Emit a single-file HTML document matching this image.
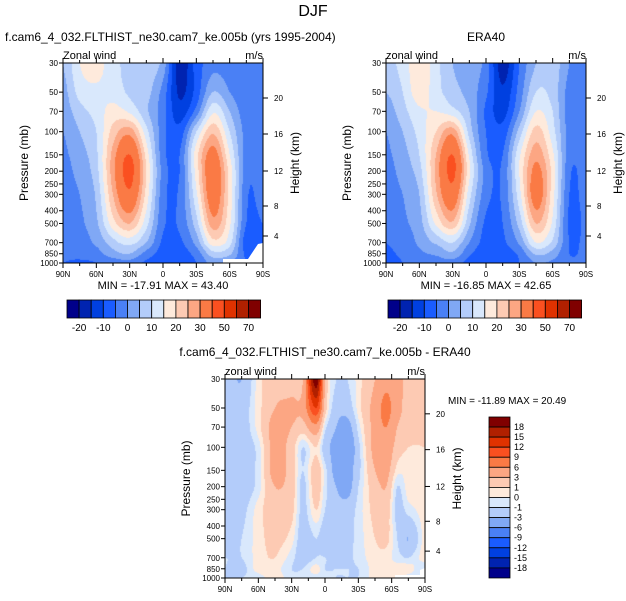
<!DOCTYPE html>
<html><head><meta charset="utf-8">
<style>
body{margin:0;background:#fff;width:626px;height:601px;overflow:hidden;position:relative;font-family:"Liberation Sans",Arial,sans-serif;color:#000}
.t{position:absolute;white-space:nowrap}
canvas{position:absolute}
svg{position:absolute;left:0;top:0}
</style></head><body>
<div class="t" style="left:0;width:626px;text-align:center;top:3px;font-size:16px">DJF</div>
<div class="t" style="left:5px;top:30px;font-size:12px">f.cam6_4_032.FLTHIST_ne30.cam7_ke.005b (yrs 1995-2004)</div>
<div class="t" style="left:386px;width:200px;text-align:center;top:30px;font-size:12px">ERA40</div>
<div class="t" style="left:130px;width:390px;text-align:center;top:345px;font-size:12px">f.cam6_4_032.FLTHIST_ne30.cam7_ke.005b - ERA40</div>
<canvas id="c1" width="200" height="200" style="left:63px;top:63px"></canvas>
<canvas id="c2" width="200" height="200" style="left:386px;top:63px"></canvas>
<canvas id="c3" width="200" height="199" style="left:225px;top:379px"></canvas>
<svg id="ov" width="626" height="601"></svg>
<script>
const pLevels=[30,50,70,100,150,200,300,500,700,850,1000];
const pTickLabels=[30,50,70,100,150,200,250,300,400,500,700,850,1000];
const kmTicks=[4,8,12,16,20];
const kmTickY=[0.865,0.715,0.54,0.355,0.175];
const latTicks=['90N','60N','30N','0','30S','60S','90S'];
const fullLevels=[-20,-15,-10,-5,0,5,10,15,20,25,30,40,50,60,70];
const fullLabels=['-20','-10','0','10','20','30','50','70'];
const diffLevels=[-18,-15,-12,-9,-6,-3,-1,0,1,3,6,9,12,15,18];
const diffLabels=['18','15','12','9','6','3','1','0','-1','-3','-6','-9','-12','-15','-18'];
const colors=['#00008a','#0023b0','#0040e0','#1a5cff','#4a80f5','#80a8f5','#b3ccfa','#d9e8fc','#feeadc','#fdcab3','#fca683','#fa7a45','#fa5020','#e03200','#b02000','#800000'];
const modelLats=[90,75,60,45,30,15,0,-15,-30,-45,-60,-75,-90];
const modelWind=[
[5,3,2,0,-1,-2,-3,-3,-3,-4,-5],
[15,12,8,5,3,2,0,-1,-2,-3,-6],
[17,14,12,10,9,8,6,4,1,-2,-5],
[12,13,17,22,27,28,25,18,8,3,-3],
[8,9,14,28,40,43,38,25,12,5,-2],
[8,7,6,12,18,20,18,12,5,-2,-6],
[3,-2,-3,-3,-3,-2,-3,-4,-6,-7,-7],
[-18,-16,-13,-8,-5,-5,-4,-4,-6,-7,-7],
[-8,-8,-3,10,18,17,14,8,2,-3,-5],
[-2,5,14,24,33,36,35,28,18,8,2],
[-3,0,5,10,15,18,18,16,12,6,0],
[-3,-4,-3,-2,-2,-3,-4,-5,-8,-6,-5],
[-2,-3,-3,-3,-3,-3,-3,-5,-5,-3,-3]];
const eraLats=[90,75,60,45,30,15,0,-15,-30,-45,-60,-75,-90];
const eraWind=[
[8,5,2,0,-1,-2,-3,-4,-5,-6,-8],
[12,10,8,5,3,2,0,-1,-3,-4,-5],
[19,18,14,12,10,8,5,3,1,-1,-3],
[12,12,15,20,25,26,24,16,6,1,-3],
[5,7,12,28,40,42,36,24,10,4,-2],
[3,3,5,8,14,16,12,6,0,-4,-7],
[-2,-4,-6,-5,-4,-2,-3,-6,-7,-8,-8],
[-18,-14,-12,-8,-5,-4,-4,-5,-6,-7,-6],
[-5,-3,0,7,14,15,13,7,1,-4,-5],
[5,10,15,22,28,32,34,25,15,6,0],
[8,8,10,12,16,18,17,14,9,3,-1],
[0,-2,-3,-2,-3,-4,-5,-6,-5,-5,-4],
[-2,-3,-3,-3,-3,-3,-3,-4,-4,-4,-4]];
const diffLats=[90,75,60,45,30,20,8,0,-10,-20,-30,-45,-55,-65,-75,-90];
const diffWind=[
[-2,-2,-2,-2,-2,-1.5,-1.5,-1.5,-1,-1,-1],
[-3,-2,-2,-2,-2,-2,-1.5,-1,-1,-1.5,-1],
[0.5,0.5,0.5,-0.5,-0.5,-0.5,0.5,0.5,0.5,0.5,-0.5],
[2,3,4,4,4,3,2,1.5,1,0.5,0.5],
[2,3.5,3,2,2,2,1.5,0.5,-0.5,-1,-0.5],
[3,4,2,-1,-1,-1.5,-1.5,-2,-2,-1,-0.5],
[20,12,5,1,2,2,1,-1,-1,0.5,-0.5],
[3,2,-0.5,-2,-0.5,-0.5,-1,-2,-1,-1,-0.5],
[-1,-2,-3,-4,-4,-3,-2,-1.5,-1.5,-1,-1],
[-1,-2,-4,-5,-4,-4,-2,-1.5,-1.5,-1,-1],
[0.5,0.5,-0.5,-1.5,-1.5,-1,-0.5,-0.5,-0.5,-1,-1],
[3,4,4,4,3,2,1.5,1,0.5,0.5,0.5],
[5,7,6,5,4,3,2,1.5,0.5,0.5,0.5],
[4,4,3,2,0.5,-1,-1.5,-1,-0.5,0.5,0.5],
[2,2,2,1,0.5,0.5,-0.5,-3,-1,0.5,-0.5],
[1,1,1,1,0.5,0.5,0.5,0.5,0.5,-1,-1]];

const NS='http://www.w3.org/2000/svg';
const ov=document.getElementById('ov');
function yOfP(p,top,h){return top+Math.log(p/30)/Math.log(1000/30)*h;}
function colorFor(v,levels){let i=0;while(i<levels.length&&v>=levels[i])i++;return colors[i];}
function cr(p0,p1,p2,p3,t){return 0.5*((2*p1)+(-p0+p2)*t+(2*p0-5*p1+4*p2-p3)*t*t+(-p0+3*p1-3*p2+p3)*t*t*t);}
function interp(lats,grid,lat,p){
  let i=0;while(i<lats.length-2&&lat<lats[i+1])i++;
  const tl=Math.min(1,Math.max(0,(lats[i]-lat)/(lats[i]-lats[i+1])));
  const lp=Math.log(p);let j=0;while(j<pLevels.length-2&&p>pLevels[j+1])j++;
  const tp=Math.min(1,Math.max(0,(lp-Math.log(pLevels[j]))/(Math.log(pLevels[j+1])-Math.log(pLevels[j]))));
  const ni=lats.length,nj=pLevels.length;
  const g=(a,b)=>grid[Math.max(0,Math.min(ni-1,a))][Math.max(0,Math.min(nj-1,b))];
  const rows=[];
  for(let di=-1;di<=2;di++){rows.push(cr(g(i+di,j-1),g(i+di,j),g(i+di,j+1),g(i+di,j+2),tp));}
  return cr(rows[0],rows[1],rows[2],rows[3],tl);
}
function drawField(id,lats,grid,levels){
  const cv=document.getElementById(id),ctx=cv.getContext('2d');const W=cv.width,H=cv.height;
  for(let y=0;y<H;y++){const p=30*Math.pow(1000/30,(y+0.5)/H);
    for(let x=0;x<W;x++){const lat=90-(x+0.5)/W*180;
      ctx.fillStyle=colorFor(interp(lats,grid,lat,p),levels);ctx.fillRect(x,y,1,1);}}
}
function el(tag,attrs,name,text){const e=document.createElementNS(NS,tag);for(const k in attrs)e.setAttribute(k,attrs[k]);
  
  
  if(text!==undefined)e.textContent=text;ov.appendChild(e);return e;}
function axes(left,top,w,h,label,pre){
  el('rect',{x:left,y:top,width:w,height:h,fill:'none',stroke:'#000','stroke-width':1},pre+'-frame');
  pTickLabels.forEach(p=>{const y=yOfP(p,top,h);
    el('line',{x1:left-4,x2:left,y1:y,y2:y,stroke:'#000'},pre+'-y-tick');
    el('text',{x:left-5,y:y+3,'font-size':8,'text-anchor':'end','font-family':'Liberation Sans'},pre+'-y-tick-label',p);});
  kmTicks.forEach((k,i)=>{const y=top+kmTickY[i]*h;
    el('line',{x1:left+w,x2:left+w+5,y1:y,y2:y,stroke:'#000'},pre+'-height-tick');
    el('text',{x:left+w+11,y:y+3,'font-size':8,'font-family':'Liberation Sans'},pre+'-height-tick-label',k);});
  for(let i=0;i<=12;i++){const x=left+i*w/12;const len=i%2==0?5:3;
    el('line',{x1:x,x2:x,y1:top+h,y2:top+h+len,stroke:'#000'},pre+'-x-tick');
    el('line',{x1:x,x2:x,y1:top,y2:top-len,stroke:'#000'},pre+'-x-tick-top');}
  latTicks.forEach((t,i)=>{const x=left+i*w/6;
    el('text',{x:x,y:top+h+14,'font-size':8,'text-anchor':'middle','font-family':'Liberation Sans'},pre+'-x-tick-label',t);});
  el('text',{x:left,y:top-4,'font-size':11,'font-family':'Liberation Sans'},pre+'-variable-label',label);
  el('text',{x:left+w,y:top-4,'font-size':11,'text-anchor':'end','font-family':'Liberation Sans'},pre+'-units-label','m/s');
  const cy=top+h/2;
  el('text',{x:left-35,y:cy,'font-size':12,'text-anchor':'middle','font-family':'Liberation Sans',transform:`rotate(-90 ${left-35} ${cy})`},pre+'-y-axis-title','Pressure (mb)');
  el('text',{x:left+w+36,y:cy,'font-size':12,'text-anchor':'middle','font-family':'Liberation Sans',transform:`rotate(-90 ${left+w+36} ${cy})`},pre+'-height-axis-title','Height (km)');
}
function hbar(left,top,pre){
  const bw=12.1;
  colors.forEach((c,i)=>el('rect',{x:left+i*bw,y:top,width:bw,height:18,fill:c,stroke:'#000','stroke-width':0.8},pre+'-colorbar-box'));
  fullLabels.forEach((t,i)=>el('text',{x:left+(1+2*i)*bw,y:top+31,'font-size':10,'text-anchor':'middle','font-family':'Liberation Sans'},pre+'-colorbar-label',t));
}
drawField('c1',modelLats,modelWind,fullLevels);
drawField('c2',eraLats,eraWind,fullLevels);
drawField('c3',diffLats,diffWind,diffLevels);
el('path',{d:'M223 263 L223 259 L248 259 L250 256 L252 253 L254 250 L256 247 L258 244 L263 243 L263 263 Z',fill:'#fff'},'model-missing-region');
el('path',{d:'M395 578 L395 575 L420 575 L420 570 L425 568 L425 578 Z',fill:'#fff'},'diff-missing-region');
axes(63,63,200,200,'Zonal wind','model');
axes(386,63,200,200,'zonal wind','era');
axes(225,379,200,199,'zonal wind','diff');
el('text',{x:163,y:289,'font-size':11,'text-anchor':'middle','font-family':'Liberation Sans'},'model-min-max','MIN = -17.91  MAX = 43.40');
el('text',{x:486,y:289,'font-size':11,'text-anchor':'middle','font-family':'Liberation Sans'},'era-min-max','MIN = -16.85  MAX = 42.65');
el('text',{x:448,y:404,'font-size':10,'font-family':'Liberation Sans'},'diff-min-max','MIN = -11.89  MAX = 20.49');
hbar(67,300,'model');hbar(388,300,'era');
const vbH=10.06;
colors.slice().reverse().forEach((c,i)=>el('rect',{x:489,y:417+i*vbH,width:21,height:vbH,fill:c,stroke:'#000','stroke-width':0.8},'diff-colorbar-box'));
diffLabels.forEach((t,i)=>el('text',{x:514,y:417+(i+1)*vbH+3,'font-size':9,'font-family':'Liberation Sans'},'diff-colorbar-label',t));
</script>
</body></html>
